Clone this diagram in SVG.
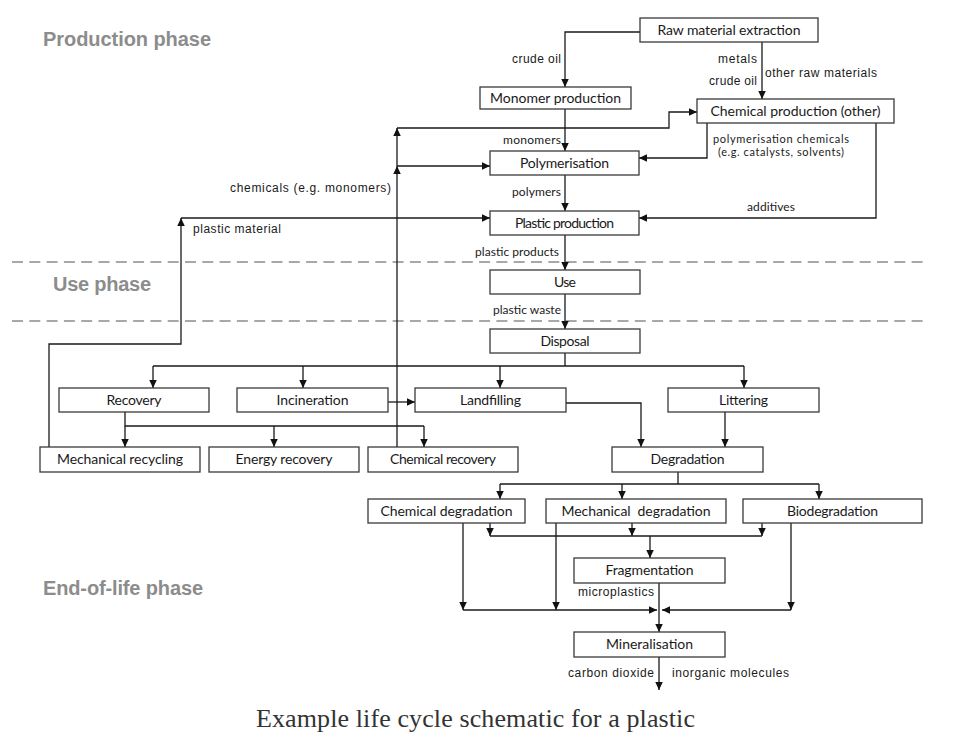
<svg xmlns="http://www.w3.org/2000/svg" width="974" height="756" viewBox="0 0 974 756">
<defs>
<marker id="ah" markerUnits="userSpaceOnUse" markerWidth="9" markerHeight="8" refX="8" refY="3.75" orient="auto">
<path d="M0,0 L8,3.75 L0,7.5 z" fill="#111"/>
</marker>
<style>
.box{fill:#fff;stroke:#3a3a3a;stroke-width:1.3}
.bl{font-family:Lato,"Liberation Sans",sans-serif;font-size:14px;fill:#1a1a1a;text-anchor:middle}
.lh{font-family:"Liberation Sans",Arial,sans-serif;font-size:12px;fill:#1a1a1a}
.lc{font-family:Lato,"Liberation Sans",sans-serif;font-size:12px;fill:#1a1a1a}
.ls{font-family:Lato,"Liberation Sans",sans-serif;font-size:11px;fill:#1a1a1a}
.ph{font-family:"Liberation Sans",Arial,sans-serif;font-size:20px;font-weight:bold;fill:#8c8c8c}
.cap{font-family:"Liberation Serif","Times New Roman",serif;font-size:26px;fill:#333}
.c{fill:none;stroke:#1a1a1a;stroke-width:1.3}
.a{fill:none;stroke:#1a1a1a;stroke-width:1.3;marker-end:url(#ah)}
.dash{stroke:#a8a8a8;stroke-width:2;stroke-dasharray:11 6.3}
</style>
</defs>
<rect width="974" height="756" fill="#fff"/>

<g id="phases">
<line class="dash" x1="12" y1="262" x2="925" y2="262"/>
<line class="dash" x1="12" y1="321" x2="925" y2="321"/>
<text class="ph" x="43" y="46" textLength="168">Production phase</text>
<text class="ph" x="53" y="291" textLength="98">Use phase</text>
<text class="ph" x="43" y="595" textLength="160">End-of-life phase</text>
</g>

<g id="connectors">
<path class="a" d="M640,32 H565 V87"/>
<path class="a" d="M762,42 V99"/>
<path class="a" d="M565,109 V151"/>
<path class="a" d="M565,175 V211"/>
<path class="a" d="M565,235 V270"/>
<path class="a" d="M565,294 V329"/>
<path class="a" d="M707,123 V158 H639"/>
<path class="a" d="M876,123 V218 H639"/>
<path class="a" d="M397,447 V166"/>
<path class="a" d="M397,166 V128"/>
<path class="a" d="M397,128 H669 V112 H697"/>
<path class="a" d="M397,166 H490"/>
<path class="a" d="M49,447 V344 H181 V218"/>
<path class="a" d="M181,218 H490"/>
<path class="c" d="M565,353 V366 M153,366 H744"/>
<path class="a" d="M153,366 V388"/>
<path class="a" d="M303,366 V388"/>
<path class="a" d="M500,366 V388"/>
<path class="a" d="M744,366 V388"/>
<path class="a" d="M388,402 H415"/>
<path class="c" d="M125,412 V426 H424"/>
<path class="a" d="M125,426 V447"/>
<path class="a" d="M274,426 V447"/>
<path class="a" d="M424,426 V447"/>
<path class="a" d="M566,403 H641 V447"/>
<path class="a" d="M725,412 V447"/>
<path class="c" d="M678,472 V484 M500,484 H819"/>
<path class="a" d="M500,484 V499"/>
<path class="a" d="M622,484 V499"/>
<path class="a" d="M819,484 V499"/>
<path class="a" d="M490,523 V536"/>
<path class="a" d="M632,523 V536"/>
<path class="a" d="M762,523 V536"/>
<path class="c" d="M490,536 H762"/>
<path class="a" d="M650,536 V558"/>
<path class="a" d="M463,523 V610"/>
<path class="a" d="M556,523 V610"/>
<path class="a" d="M463,610 H657"/>
<path class="a" d="M791,523 V610"/>
<path class="a" d="M791,610 H662"/>
<path class="a" d="M659,583 V632"/>
<path class="a" d="M659,657 V690"/>
</g>

<g id="labels">
<text class="lh" x="561" y="63" text-anchor="end" textLength="49">crude oil</text>
<text class="lh" x="757" y="63" text-anchor="end" textLength="39">metals</text>
<text class="lh" x="765" y="77" textLength="112">other raw materials</text>
<text class="lh" x="757" y="85" text-anchor="end" textLength="48">crude oil</text>
<text class="lc" x="561" y="144" text-anchor="end" textLength="58">monomers</text>
<text class="ls" x="713" y="143" textLength="136">polymerisation chemicals</text>
<text class="ls" x="718" y="156" textLength="126">(e.g. catalysts, solvents)</text>
<text class="lc" x="561" y="196" text-anchor="end" textLength="49">polymers</text>
<text class="lc" x="747" y="211" textLength="48">additives</text>
<text class="lh" x="230" y="192" textLength="161">chemicals (e.g. monomers)</text>
<text class="lh" x="193" y="233" textLength="88">plastic material</text>
<text class="lc" x="475" y="256" textLength="84">plastic products</text>
<text class="lc" x="493" y="314" textLength="68">plastic waste</text>
<text class="lh" x="578" y="596" textLength="76">microplastics</text>
<text class="lh" x="568" y="677" textLength="86">carbon dioxide</text>
<text class="lh" x="672" y="677" textLength="117">inorganic molecules</text>
</g>

<g id="raw"><rect class="box" x="640" y="18" width="178" height="24"/><text class="bl" x="729" y="35" textLength="143">Raw material extraction</text></g>
<g id="monomer"><rect class="box" x="480" y="87" width="151" height="22"/><text class="bl" x="555.5" y="103" textLength="131">Monomer production</text></g>
<g id="chemprod"><rect class="box" x="697" y="99" width="197" height="24"/><text class="bl" x="795.5" y="116" textLength="170">Chemical production (other)</text></g>
<g id="poly"><rect class="box" x="490" y="151" width="149" height="24"/><text class="bl" x="564.5" y="168" textLength="89">Polymerisation</text></g>
<g id="plasticprod"><rect class="box" x="490" y="211" width="149" height="24"/><text class="bl" x="564.5" y="228" textLength="99">Plastic production</text></g>
<g id="use"><rect class="box" x="490" y="270" width="150" height="24"/><text class="bl" x="565" y="287" textLength="22">Use</text></g>
<g id="disposal"><rect class="box" x="490" y="329" width="150" height="24"/><text class="bl" x="565" y="346" textLength="49">Disposal</text></g>
<g id="recovery"><rect class="box" x="59" y="388" width="150" height="24"/><text class="bl" x="134" y="405" textLength="55">Recovery</text></g>
<g id="incineration"><rect class="box" x="237" y="388" width="151" height="24"/><text class="bl" x="312.5" y="405" textLength="72">Incineration</text></g>
<g id="landfilling"><rect class="box" x="415" y="388" width="151" height="24"/><text class="bl" x="490.5" y="405" textLength="61">Landfilling</text></g>
<g id="littering"><rect class="box" x="668" y="388" width="151" height="24"/><text class="bl" x="743.5" y="405" textLength="49">Littering</text></g>
<g id="mechrec"><rect class="box" x="40" y="447" width="160" height="25"/><text class="bl" x="120" y="464" textLength="126">Mechanical recycling</text></g>
<g id="energy"><rect class="box" x="209" y="447" width="150" height="25"/><text class="bl" x="284" y="464" textLength="97">Energy recovery</text></g>
<g id="chemrec"><rect class="box" x="368" y="447" width="150" height="25"/><text class="bl" x="443" y="464" textLength="106">Chemical recovery</text></g>
<g id="degradation"><rect class="box" x="612" y="447" width="151" height="25"/><text class="bl" x="687.5" y="464" textLength="74">Degradation</text></g>
<g id="chemdeg"><rect class="box" x="368" y="499" width="157" height="24"/><text class="bl" x="446.5" y="516" textLength="132">Chemical degradation</text></g>
<g id="mechdeg"><rect class="box" x="546" y="499" width="180" height="24"/><text class="bl" x="636" y="516" textLength="149" xml:space="preserve">Mechanical  degradation</text></g>
<g id="biodeg"><rect class="box" x="743" y="499" width="179" height="24"/><text class="bl" x="832.5" y="516" textLength="91">Biodegradation</text></g>
<g id="frag"><rect class="box" x="574" y="558" width="151" height="25"/><text class="bl" x="649.5" y="575" textLength="88">Fragmentation</text></g>
<g id="mineral"><rect class="box" x="574" y="632" width="151" height="25"/><text class="bl" x="649.5" y="649" textLength="87">Mineralisation</text></g>

<text class="cap" x="256" y="727" textLength="439">Example life cycle schematic for a plastic</text>
</svg>
